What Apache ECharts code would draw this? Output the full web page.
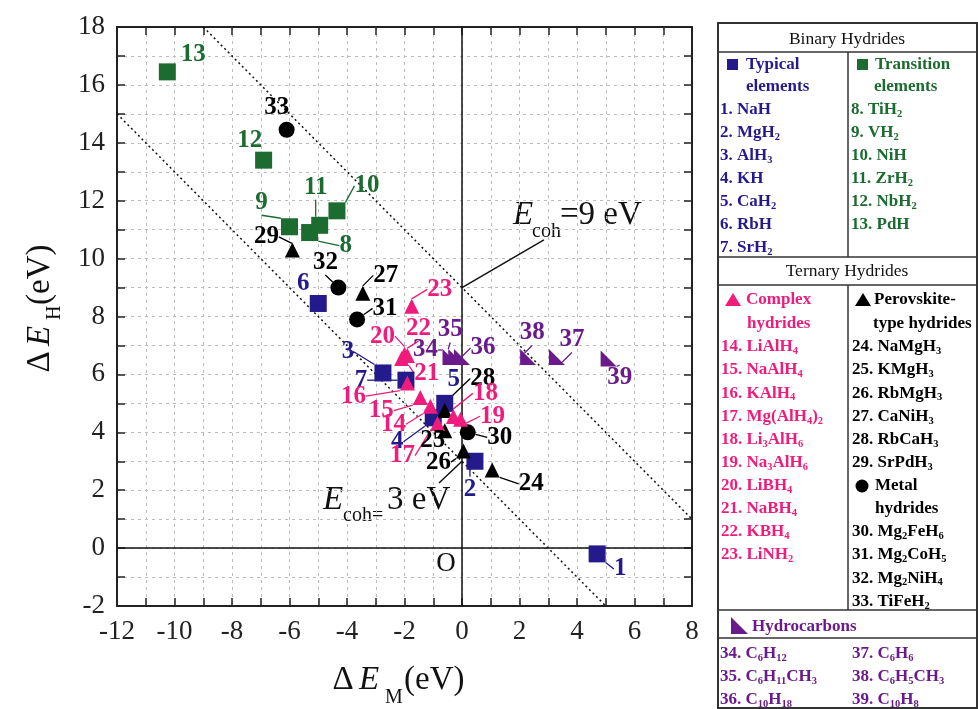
<!DOCTYPE html>
<html>
  <head>
    <meta charset="utf-8" />
    <title>Hydrides</title>
    <script src="https://cdn.jsdelivr.net/npm/echarts@6/dist/echarts.min.js"></script>
    <style>body{margin:0;background:#fff;}</style>
  </head>
  <body>
    <div id="main" style="width: 978px;height:709px;"></div>
    <script type="text/javascript">
// ---- data ----
var typicalIds = [1, 2, 3, 4, 5, 6, 7];
var typicalPts = [[4.7, -0.2], [0.45, 3.0], [-2.75, 6.05], [-1.0, 4.5], [-0.6, 5.0], [-5.0, 8.45], [-1.95, 5.8]];
var transitionIds = [8, 9, 10, 11, 12, 13];
var transitionPts = [[-5.3, 10.9], [-6.0, 11.1], [-4.35, 11.65], [-4.95, 11.15], [-6.9, 13.4], [-10.25, 16.45]];
var complexIds = [14, 15, 16, 17, 18, 19, 20, 21, 22, 23];
var complexPts = [[-1.1, 4.9], [-1.45, 5.2], [-1.9, 5.7], [-0.85, 4.3], [-0.3, 4.55], [-0.05, 4.45], [-2.0, 6.7], [-2.1, 6.55], [-1.9, 6.65], [-1.75, 8.35]];
var perovIds = [24, 25, 26, 27, 28, 29];
var perovPts = [[1.05, 2.7], [-0.6, 4.05], [0.05, 3.35], [-3.45, 8.8], [-0.6, 4.75], [-5.9, 10.3]];
var metalIds = [30, 31, 32, 33];
var metalPts = [[0.2, 4.0], [-3.65, 7.9], [-4.3, 9.0], [-6.1, 14.45]];
var hydroIds = [34, 35, 36, 37, 38, 39];
var hydroPts = [[-0.4, 6.6], [-0.2, 6.6], [0.0, 6.6], [3.3, 6.6], [2.3, 6.6], [5.1, 6.55]];

// E_coh lines (x + y = const) and axes through origin
var coh9Line = [[-9, 18], [8, 1]];
var coh3Line = [[-12, 15], [5, -2]];
var zeroXLine = [[0, -2], [0, 18]];
var zeroYLine = [[-12, 0], [8, 0]];
var coh9Pointer = [[0, 9], [2.85, 10.65]];
var coh3Pointer = [[0, 3], [-0.8, 2.25]];

// legend table texts
var binaryLeft = ['1. NaH', '2. MgH2', '3. AlH3', '4. KH', '5. CaH2', '6. RbH', '7. SrH2'];
var binaryRight = ['8. TiH2', '9. VH2', '10. NiH', '11. ZrH2', '12. NbH2', '13. PdH'];
var complexNames = ['14. LiAlH4', '15. NaAlH4', '16. KAlH4', '17. Mg(AlH4)2', '18. Li3AlH6', '19. Na3AlH6', '20. LiBH4', '21. NaBH4', '22. KBH4', '23. LiNH2'];
var perovNames = ['24. NaMgH3', '25. KMgH3', '26. RbMgH3', '27. CaNiH3', '28. RbCaH3', '29. SrPdH3'];
var metalNames = ['30. Mg2FeH6', '31. Mg2CoH5', '32. Mg2NiH4', '33. TiFeH2'];
var hydroLeft = ['34. C6H12', '35. C6H11CH3', '36. C10H18'];
var hydroRight = ['37. C6H6', '38. C6H5CH3', '39. C10H8'];

// ---- label placement (pixel offsets of label centre from marker) ----
var labelOffsets = {
  1: [23, 15], 2: [-5, 28], 3: [-35, -21], 4: [-36, 24], 5: [9, -24], 6: [-15, -20], 7: [-45, 0],
  8: [36, 13], 9: [-28, -24], 10: [30, -25], 11: [-4, -38], 12: [-14, -20], 13: [26, -17],
  14: [-37, 18], 15: [-39, 13], 16: [-54, 13], 17: [-35, 32], 18: [32, -23], 19: [32, -3],
  20: [-22, -18], 21: [25, 15], 22: [11, -27], 23: [28, -17],
  24: [39, 14], 25: [-12, 10], 26: [-25, 11], 27: [23, -18], 28: [38, -32], 29: [-26, -13],
  30: [32, 5], 31: [28, -11], 32: [-13, -25], 33: [-10, -22],
  34: [-25, -7], 35: [-6, -27], 36: [21, -9], 37: [15, -17], 38: [4, -24], 39: [11, 19]
};
var noLine = [5, 6, 12, 13, 25, 33];

var FONT = 'Liberation Serif';
var NAVY = '#241a8c', GREEN = '#1c6b30', PINK = '#f01c7c', BLACK = '#000000', PURPLE = '#6a1a8a';

function scatter(name, ids, pts, symbol, size, color) {
  return {
    name: name,
    type: 'scatter',
    symbol: symbol,
    symbolSize: size,
    symbolKeepAspect: true,
    itemStyle: { color: color, opacity: 1 },
    data: pts.map(function (p, i) {
      return { value: p, labelLine: { show: noLine.indexOf(ids[i]) < 0 } };
    }),
    label: {
      show: true,
      position: 'inside',
      formatter: function (p) { return String(ids[p.dataIndex]); },
      color: color,
      fontFamily: FONT,
      fontWeight: 'bold',
      fontSize: 25
    },
    labelLine: { show: true, lineStyle: { color: color, width: 1.3 } },
    labelLayout: function (p) {
      var off = labelOffsets[ids[p.dataIndex]];
      return {
        x: p.rect.x + p.rect.width / 2 + off[0],
        y: p.rect.y + p.rect.height / 2 + off[1],
        align: 'center',
        verticalAlign: 'middle'
      };
    },
    emphasis: { disabled: true },
    z: 5
  };
}

function refLine(pts, type, width) {
  return {
    type: 'line', data: pts, symbol: 'none', silent: true, z: 3,
    lineStyle: { color: '#111', width: width, type: type }
  };
}

// rich text with subscripts for chemical formulas
function sub(s) {
  return '{n|' + s.replace(/([A-Za-z)])(\d+)/g, '$1}{s|$2}{n|') + '}';
}
function richFor(color) {
  return {
    n: { fontFamily: FONT, fontWeight: 'bold', fontSize: 17, fill: color, lineHeight: 20 },
    s: { fontFamily: FONT, fontWeight: 'bold', fontSize: 10.5, fill: color, lineHeight: 17, verticalAlign: 'bottom' }
  };
}
function formula(x, y, s, color) {
  return { type: 'text', x: x, y: y, style: { text: sub(s), rich: richFor(color), verticalAlign: 'middle', align: 'left' } };
}
function plain(x, y, s, color, size, weight, style, align) {
  return {
    type: 'text', x: x, y: y,
    style: {
      text: s, fill: color, fontFamily: FONT, fontSize: size, fontWeight: weight || 'normal',
      fontStyle: style || 'normal', verticalAlign: 'middle', align: align || 'left'
    }
  };
}
function hline(y) { return { type: 'line', shape: { x1: 718, y1: y, x2: 977, y2: y }, style: { stroke: '#333', lineWidth: 1.5 } }; }
function vline(x, y1, y2) { return { type: 'line', shape: { x1: x, y1: y1, x2: x, y2: y2 }, style: { stroke: '#333', lineWidth: 1.5 } }; }

var g = [];
// table frame
g.push({ type: 'rect', shape: { x: 718, y: 23, width: 259, height: 685 }, style: { fill: 'none', stroke: '#333', lineWidth: 2 } });
[52, 257, 285, 610, 638].forEach(function (y) { g.push(hline(y)); });
g.push(vline(848, 52, 257));
g.push(vline(848, 285, 610));
// binary section
g.push(plain(847, 39, 'Binary Hydrides', '#111', 17.5, 'normal', 'normal', 'center'));
g.push({ type: 'rect', shape: { x: 727, y: 59, width: 11, height: 11 }, style: { fill: NAVY } });
g.push(plain(746, 65, 'Typical', NAVY, 17, 'bold'));
g.push(plain(746, 87, 'elements', NAVY, 17, 'bold'));
g.push({ type: 'rect', shape: { x: 857, y: 59, width: 11, height: 11 }, style: { fill: GREEN } });
g.push(plain(875, 65, 'Transition', GREEN, 17, 'bold'));
g.push(plain(874, 87, 'elements', GREEN, 17, 'bold'));
binaryLeft.forEach(function (s, i) { g.push(formula(720, 110 + i * 22.9, s, NAVY)); });
binaryRight.forEach(function (s, i) { g.push(formula(851, 110 + i * 22.9, s, GREEN)); });
// ternary section
g.push(plain(847, 271, 'Ternary Hydrides', '#111', 17.5, 'normal', 'normal', 'center'));
g.push({ type: 'polygon', shape: { points: [[725, 306], [733, 293], [741, 306]] }, style: { fill: PINK } });
g.push(plain(746, 300, 'Complex', PINK, 17, 'bold'));
g.push(plain(747, 324, 'hydrides', PINK, 17, 'bold'));
g.push({ type: 'polygon', shape: { points: [[855, 306], [863, 293], [871, 306]] }, style: { fill: BLACK } });
g.push(plain(874, 300, 'Perovskite-', BLACK, 17, 'bold'));
g.push(plain(873, 324, 'type hydrides', BLACK, 17, 'bold'));
complexNames.forEach(function (s, i) { g.push(formula(721, 347 + i * 23.1, s, PINK)); });
perovNames.forEach(function (s, i) { g.push(formula(852, 347 + i * 23.1, s, BLACK)); });
g.push({ type: 'circle', shape: { cx: 862, cy: 486, r: 6.5 }, style: { fill: BLACK } });
g.push(plain(875, 486, 'Metal', BLACK, 17, 'bold'));
g.push(plain(875, 509, 'hydrides', BLACK, 17, 'bold'));
metalNames.forEach(function (s, i) { g.push(formula(852, 532 + i * 23.1, s, BLACK)); });
// hydrocarbons
g.push({ type: 'polygon', shape: { points: [[731, 617], [731, 634], [748, 634]] }, style: { fill: PURPLE } });
g.push(plain(752, 627, 'Hydrocarbons', PURPLE, 17, 'bold'));
hydroLeft.forEach(function (s, i) { g.push(formula(720, 654 + i * 23, s, PURPLE)); });
hydroRight.forEach(function (s, i) { g.push(formula(852, 654 + i * 23, s, PURPLE)); });

// annotations in the plot
g.push(plain(513, 215, 'E', '#111', 33, 'normal', 'italic'));
g.push(plain(532, 232, 'coh', '#111', 20));
g.push(plain(560, 215, '=9 eV', '#111', 33));
g.push(plain(323, 500, 'E', '#111', 33, 'normal', 'italic'));
g.push(plain(343, 516, 'coh=', '#111', 20));
g.push(plain(387, 500, '3 eV', '#111', 33));
g.push(plain(446, 564, 'O', '#111', 27, 'normal', 'normal', 'center'));

// axis titles
g.push(plain(343, 680, '\u0394', '#111', 33, 'normal', 'normal', 'center'));
g.push(plain(359, 680, 'E', '#111', 33, 'normal', 'italic'));
g.push(plain(385, 698, 'M', '#111', 20));
g.push(plain(404, 680, '(eV)', '#111', 33));
g.push({
  type: 'group', x: 50, y: 300, rotation: Math.PI / 2,
  children: [
    plain(-62, -10, '\u0394', '#111', 33, 'normal', 'normal', 'center'),
    plain(-46, -10, 'E', '#111', 33, 'normal', 'italic'),
    plain(-20, 5, 'H', '#111', 20),
    plain(-5, -10, '(eV)', '#111', 33)
  ]
});

var myChart = echarts.init(document.getElementById('main'));

var axisCommon = {
  type: 'value',
  interval: 1,
  axisLine: { onZero: false, lineStyle: { color: '#222', width: 2 } },
  axisTick: { inside: true, length: 8, lineStyle: { color: '#222', width: 1.5 } }
};
var gridLine = { show: true, lineStyle: { color: '#bdbdbd', type: [3, 4], width: 1 } };
var tickFont = { fontFamily: FONT, fontSize: 27, color: '#222' };

myChart.setOption({
  animation: false,
  backgroundColor: '#fff',
  grid: { left: 117, top: 27, right: 286, bottom: 103 },
  xAxis: [
    Object.assign({}, axisCommon, {
      min: -12, max: 8, position: 'bottom',
      axisLabel: Object.assign({ margin: 12, formatter: function (v) { return v % 2 === 0 ? String(v) : ''; } }, tickFont),
      splitLine: gridLine
    }),
    Object.assign({}, axisCommon, { min: -12, max: 8, position: 'top', axisLabel: { show: false }, splitLine: { show: false } })
  ],
  yAxis: [
    Object.assign({}, axisCommon, {
      min: -2, max: 18, position: 'left',
      axisLabel: Object.assign({ margin: 12, formatter: function (v) { return v % 2 === 0 ? String(v) : ''; } }, tickFont),
      splitLine: gridLine
    }),
    Object.assign({}, axisCommon, { min: -2, max: 18, position: 'right', axisLabel: { show: false }, splitLine: { show: false } })
  ],
  graphic: g,
  series: [
    refLine(coh9Line, [2, 3], 1.5),
    refLine(coh3Line, [2, 3], 1.5),
    refLine(zeroXLine, 'solid', 1.5),
    refLine(zeroYLine, 'solid', 1.5),
    refLine(coh9Pointer, 'solid', 1.5),
    refLine(coh3Pointer, 'solid', 1.5),
    scatter('Typical elements', typicalIds, typicalPts, 'rect', 17, NAVY),
    scatter('Transition elements', transitionIds, transitionPts, 'rect', 17, GREEN),
    scatter('Metal hydrides', metalIds, metalPts, 'circle', 16, BLACK),
    scatter('Perovskite-type hydrides', perovIds, perovPts, 'triangle', 15, BLACK),
    scatter('Complex hydrides', complexIds, complexPts, 'triangle', 15, PINK),
    scatter('Hydrocarbons', hydroIds, hydroPts, 'path://M0,0L0,10L10,10Z', 16, PURPLE)
  ]
});
    </script>
  </body>
</html>
